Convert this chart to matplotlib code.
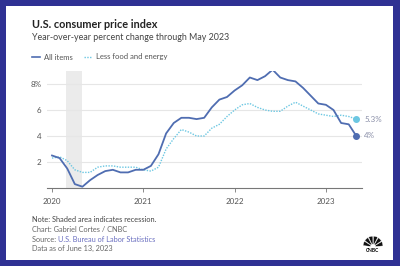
import matplotlib.pyplot as plt
from matplotlib.patches import Rectangle, Wedge

# monthly year-over-year % change, Jan 2020 - May 2023
all_items = [2.5, 2.3, 1.5, 0.3, 0.1, 0.6, 1.0, 1.3, 1.4, 1.2, 1.2, 1.4,
             1.4, 1.7, 2.6, 4.2, 5.0, 5.4, 5.4, 5.3, 5.4, 6.2, 6.8, 7.0,
             7.5, 7.9, 8.5, 8.3, 8.6, 9.1, 8.5, 8.3, 8.2, 7.7, 7.1, 6.5,
             6.4, 6.0, 5.0, 4.9, 4.0]
core = [2.3, 2.4, 2.1, 1.4, 1.2, 1.2, 1.6, 1.7, 1.7, 1.6, 1.6, 1.6,
        1.4, 1.3, 1.6, 3.0, 3.8, 4.5, 4.3, 4.0, 4.0, 4.6, 4.9, 5.5,
        6.0, 6.4, 6.5, 6.2, 6.0, 5.9, 5.9, 6.3, 6.6, 6.3, 6.0, 5.7,
        5.6, 5.5, 5.6, 5.5, 5.3]
months = [2020 + i / 12 for i in range(len(all_items))]
recession = (2020 + 1.85 / 12, 2020 + 3.95 / 12)
years = [2020, 2021, 2022, 2023]
yticks = [2, 4, 6, 8]
ytick_labels = ['2', '4', '6', '8%']

dark = '#4f6db1'
light = '#6cc7e2'
grey = '#555555'

plt.rcParams['font.family'] = ['Lato', 'DejaVu Sans']

fig = plt.figure(figsize=(4, 2.66), dpi=100)
fig.patch.set_facecolor('#2f3193')
fig.patches.append(Rectangle((6 / 400, 1 - 260 / 266), 387 / 400, 254 / 266,
                             transform=fig.transFigure, facecolor='white',
                             edgecolor='none', zorder=-5))

ax = fig.add_axes([47 / 400, 1 - 188 / 266, 315 / 400, 117 / 266])
ax.set_facecolor('none')
ax.axvspan(*recession, color='#ebebeb', lw=0, zorder=0)
ax.plot(months, core, color=light, lw=1.0, ls=(0, (1, 1)), zorder=2)
ax.plot(months, all_items, color=dark, lw=1.3, zorder=3)
ax.plot(months[-1], core[-1], 'o', color=light, ms=4, zorder=4)
ax.plot(months[-1], all_items[-1], 'o', color=dark, ms=4, zorder=4)
ax.text(2023.42, core[-1], '%.1f%%' % core[-1], color='#8a8fa8', fontsize=5.8, va='center')
ax.text(2023.42, all_items[-1], '%d%%' % all_items[-1], color='#8a8fa8', fontsize=5.8, va='center')

ax.set_xlim(2020 - 5 / 91.3, 2020 + 310 / 91.3)
ax.set_ylim(0, 9)
ax.set_yticks(yticks)
ax.set_yticklabels(ytick_labels)
ax.set_xticks(years)
ax.set_xticklabels([str(y) for y in years])
ax.grid(axis='y', color='#e6e6e6', lw=0.8)
ax.set_axisbelow(True)
for s in ['top', 'right', 'left']:
    ax.spines[s].set_visible(False)
ax.spines['bottom'].set_color('#777777')
ax.spines['bottom'].set_linewidth(0.8)
ax.tick_params(axis='y', length=0, labelsize=5.8, labelcolor=grey, pad=4)
ax.tick_params(axis='x', length=3, width=0.6, color='#777777', labelsize=5.8,
               labelcolor=grey, pad=4)

fig.text(32 / 400, 1 - 25 / 266, 'U.S. consumer price index', fontsize=7.8,
         fontweight='bold', color='#222222', va='center')
fig.text(32 / 400, 1 - 38 / 266, 'Year-over-year percent change through May 2023',
         fontsize=6.4, color='#444444', va='center')

# legend
ly = 1 - 57 / 266
fig.lines.append(plt.Line2D([32 / 400, 40 / 400], [ly, ly], color=dark, lw=1.2,
                            transform=fig.transFigure))
fig.text(44 / 400, ly, 'All items', fontsize=5.5, color=grey, va='center')
fig.lines.append(plt.Line2D([84 / 400, 92 / 400], [ly, ly], color=light, lw=1.0,
                            ls=(0, (1, 1)), transform=fig.transFigure))
fig.text(96 / 400, ly, 'Less food and energy', fontsize=5.5, color=grey, va='center')

# footer
fig.text(32 / 400, 1 - 220 / 266, 'Note: Shaded area indicates recession.',
         fontsize=5.3, color='#444444', va='center')
fig.text(32 / 400, 1 - 229 / 266, 'Chart: Gabriel Cortes / CNBC',
         fontsize=5.3, color='#666666', va='center')
fig.text(32 / 400, 1 - 239 / 266, 'Source: ', fontsize=5.3, color='#666666', va='center')
fig.text(58 / 400, 1 - 239 / 266, 'U.S. Bureau of Labor Statistics',
         fontsize=5.3, color='#6a6fc0', va='center')
fig.text(32 / 400, 1 - 248 / 266, 'Data as of June 13, 2023',
         fontsize=5.3, color='#666666', va='center')

# small peacock-style logo
lax = fig.add_axes([362 / 400, 1 - 252 / 266, 22 / 400, 18 / 266])
lax.set_xlim(-1.1, 1.1)
lax.set_ylim(-0.6, 1.1)
lax.axis('off')
for k in range(6):
    a0 = 4 + k * 29
    lax.add_patch(Wedge((0, -0.1), 1.0, a0, a0 + 25, width=0.75,
                        facecolor='#111111', edgecolor='white', lw=0.3))
lax.text(0, -0.45, 'CNBC', fontsize=3.5, fontweight='bold', ha='center', va='center')

fig.savefig('out.png', dpi=100, facecolor=fig.get_facecolor())
